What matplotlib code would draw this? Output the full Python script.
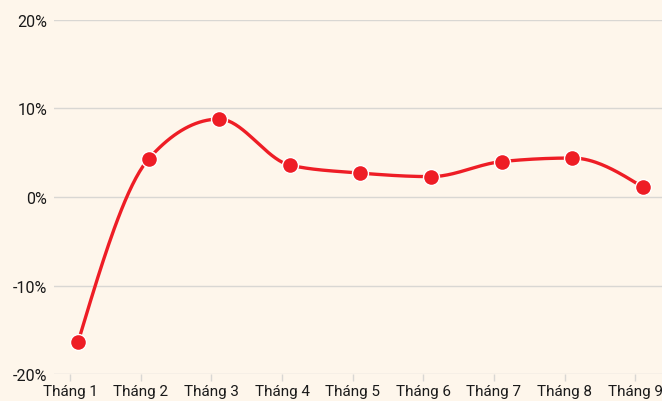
import numpy as np
import matplotlib
matplotlib.use("Agg")
import matplotlib.pyplot as plt

months = ["Tháng 1", "Tháng 2", "Tháng 3", "Tháng 4", "Tháng 5",
          "Tháng 6", "Tháng 7", "Tháng 8", "Tháng 9"]
values = [-16.4, 4.3, 8.8, 3.6, 2.7, 2.3, 4.0, 4.4, 1.1]
yticks = [-20, -10, 0, 10, 20]

bg = "#FEF6EB"
red = "#EE1D25"
grid = "#D9D7D3"

plt.rcParams['font.family'] = ['Roboto', 'DejaVu Sans']

fig = plt.figure(figsize=(6.62, 4.02), dpi=100, facecolor=bg)
ax = fig.add_axes([0.0816, 0.067, 0.9184, 0.881], facecolor=bg)

x = np.arange(len(values), dtype=float)
y = np.array(values, dtype=float)

# monotone cubic (like d3 curveMonotoneX)
n = len(x)
h = np.diff(x)
s = np.diff(y) / h
tan = np.zeros(n)
for i in range(1, n - 1):
    p = (s[i - 1] * h[i] + s[i] * h[i - 1]) / (h[i - 1] + h[i])
    tan[i] = (np.sign(s[i - 1]) + np.sign(s[i])) * min(abs(s[i - 1]), abs(s[i]), 0.5 * abs(p))
tan[0] = (3 * s[0] - tan[1]) / 2
tan[-1] = (3 * s[-1] - tan[-2]) / 2

t = np.linspace(0, 1, 40)
cx, cy = [], []
for i in range(n - 1):
    dx = h[i] / 3
    bx = [x[i], x[i] + dx, x[i + 1] - dx, x[i + 1]]
    by = [y[i], y[i] + dx * tan[i], y[i + 1] - dx * tan[i + 1], y[i + 1]]
    w = [(1 - t) ** 3, 3 * (1 - t) ** 2 * t, 3 * (1 - t) * t ** 2, t ** 3]
    cx.append(sum(wk * b for wk, b in zip(w, bx)))
    cy.append(sum(wk * b for wk, b in zip(w, by)))
cx = np.concatenate(cx)
cy = np.concatenate(cy)

ax.plot(cx, cy, color=red, lw=2.4, solid_capstyle="round", zorder=3)
ax.plot(x, y, "o", color=red, ms=11.5, mec="white", mew=1.0, zorder=4)

ax.set_ylim(-20, 20)
ax.set_xlim(-0.34, 8.27)
ax.set_yticks(yticks)
ax.set_yticklabels([f"{v}%" for v in yticks])
ax.set_xticks(x - 0.11)
ax.set_xticklabels(months)

ax.grid(axis="y", color=grid, lw=1.0)
ax.set_axisbelow(True)
for sp in ax.spines.values():
    sp.set_visible(False)
ax.tick_params(axis="y", length=0, pad=5, labelsize=11.5, labelcolor="#1a1a1a")
ax.tick_params(axis="x", length=5, width=1, color=grid, pad=2, labelsize=11, labelcolor="#1a1a1a")

fig.savefig("out.png", dpi=100, facecolor=bg)
